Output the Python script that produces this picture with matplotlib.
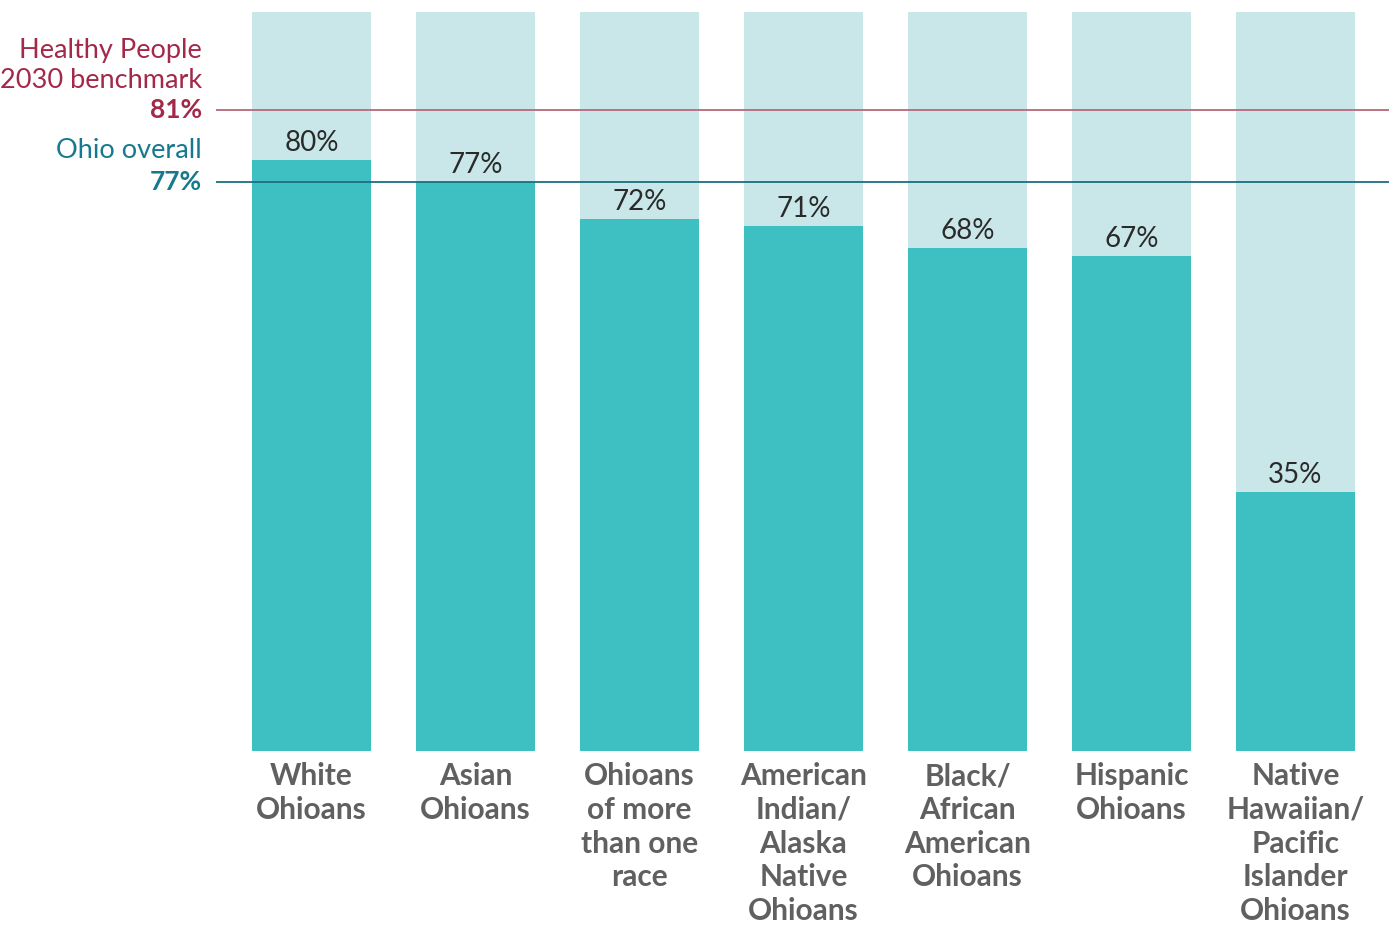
import matplotlib
matplotlib.use("Agg")
import matplotlib.pyplot as plt
import matplotlib.transforms as mtransforms

# data
groups = ["White\nOhioans", "Asian\nOhioans", "Ohioans\nof more\nthan one\nrace",
          "American\nIndian/\nAlaska\nNative\nOhioans", "Black/\nAfrican\nAmerican\nOhioans",
          "Hispanic\nOhioans", "Native\nHawaiian/\nPacific\nIslander\nOhioans"]
values = [80, 77, 72, 71, 68, 67, 35]
ohio_overall = 77
benchmark = 81
# the source graphic draws the benchmark line higher than 81 on the bar scale
benchmark_line_pos = 86.7

bar_color = "#3EBFC1"
back_color = "#C9E7E9"
red = "#A3284A"
red_line = "#B5687A"
teal = "#17798E"
teal_line = "#1B6F80"
label_gray = "#606060"

plt.rcParams['font.family'] = ['Lato', 'DejaVu Sans']

fig = plt.figure(figsize=(13.89, 9.26), dpi=100)
ax = fig.add_axes([216 / 1389, 175 / 926, 1 - 216 / 1389, 739 / 926])

x = list(range(len(values)))
width = 119 / 164
ax.bar(x, [100] * len(values), width=width, color=back_color, zorder=1)
ax.bar(x, values, width=width, color=bar_color, zorder=2)

ax.axhline(benchmark_line_pos, color=red_line, lw=1.3, zorder=3)
ax.axhline(ohio_overall, color=teal_line, lw=1.3, zorder=3)

for xi, v in zip(x, values):
    ax.annotate(f"{v}%", (xi, v), xytext=(0, 9), textcoords="offset pixels",
                ha="center", va="baseline", fontsize=20, fontweight="normal",
                color="#2a2a2a", zorder=4)

ax.set_xlim(-0.582, 6.570)
ax.set_ylim(0, 100)
ax.set_xticks(x)
ax.set_xticklabels(groups, fontsize=21.5, fontweight="bold", color=label_gray,
                   linespacing=1.25)
ax.tick_params(axis="x", length=0, pad=8)
ax.set_yticks([])
for s in ax.spines.values():
    s.set_visible(False)

# left side annotations
trans = mtransforms.blended_transform_factory(fig.transFigure, ax.transData)
lx = 202 / 1389
ax.annotate(f"{benchmark}%", (lx, benchmark_line_pos), xycoords=trans,
            ha="right", va="center", fontsize=19, fontweight="bold", color=red,
            annotation_clip=False)
ax.annotate("Healthy People\n2030 benchmark", (lx, benchmark_line_pos), xycoords=trans,
            xytext=(0, 17), textcoords="offset pixels",
            ha="right", va="bottom", fontsize=19.5, color=red, linespacing=1.25,
            annotation_clip=False)
ax.annotate(f"{ohio_overall}%", (lx, ohio_overall), xycoords=trans,
            ha="right", va="center", fontsize=19, fontweight="bold", color=teal,
            annotation_clip=False)
ax.annotate("Ohio overall", (lx, ohio_overall), xycoords=trans,
            xytext=(0, 19), textcoords="offset pixels",
            ha="right", va="bottom", fontsize=19.5, color=teal,
            annotation_clip=False)

fig.savefig("out.png", dpi=100)
